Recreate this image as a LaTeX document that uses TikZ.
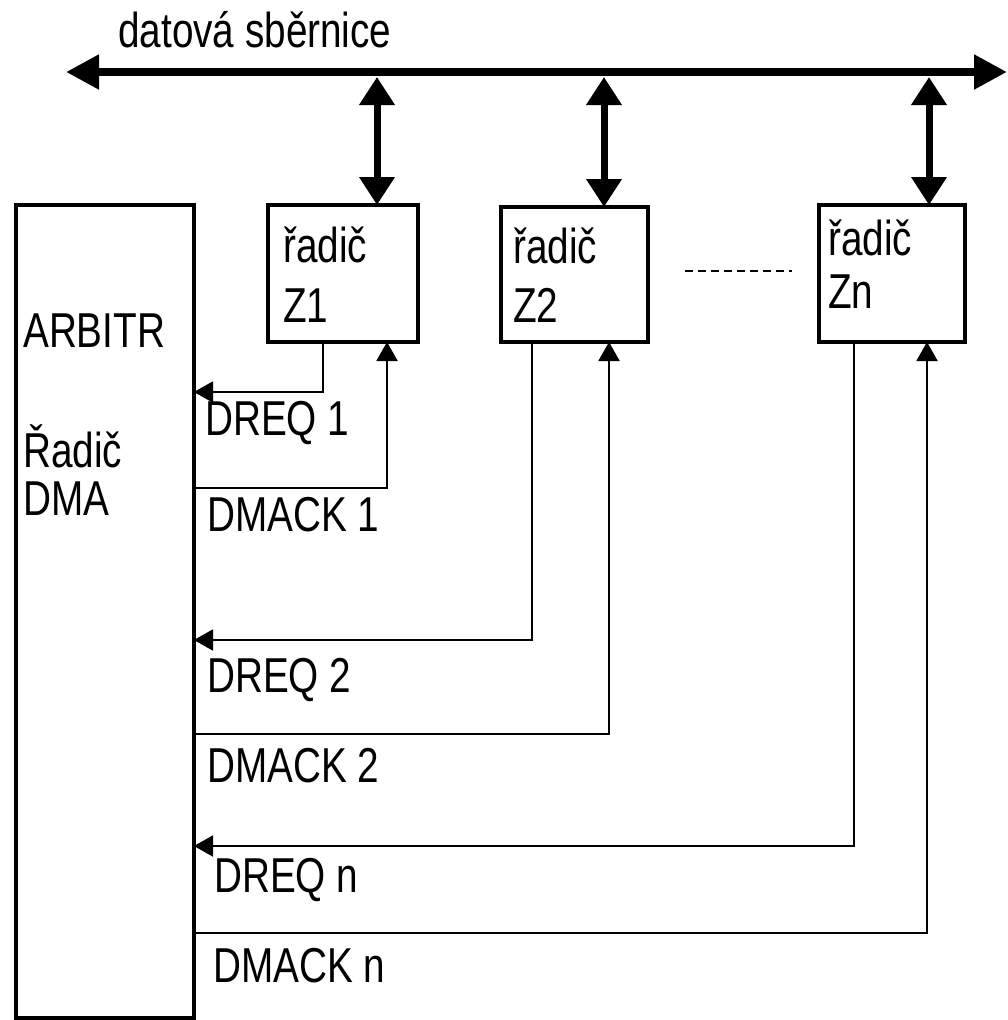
\documentclass[tikz,border=0pt]{standalone}
\usepackage{fontspec}
\setmainfont{Liberation Sans}[FakeStretch=0.79]
\usetikzlibrary{arrows.meta}
\begin{document}
\begin{tikzpicture}[x=1pt,y=-1pt,
  box/.style={draw,line width=4pt,rectangle,inner sep=0pt,outer sep=0pt},
  lbl/.style={anchor=base west,inner sep=0pt,font=\fontsize{49}{49}\selectfont},
  bus/.style={line width=8pt,{Triangle[length=33pt,width=33pt]}-{Triangle[length=33pt,width=33pt]}},
  link/.style={line width=7pt,{Triangle[length=28pt,width=34pt]}-{Triangle[length=28pt,width=34pt]}},
  sig/.style={line width=2pt},
  sigarrow/.style={sig,-{Triangle[length=19pt,width=21pt]}},
  dots/.style={line width=2pt,dash pattern=on 8pt off 5pt}]
\useasboundingbox (0,0) rectangle (1007,1020);
% boxes
\node[box,minimum width=178pt,minimum height=813pt] (arb) at (105,611.5) {};
\node[box,minimum width=150pt,minimum height=137pt] (z1) at (343,273.5) {};
\node[box,minimum width=147pt,minimum height=135pt] (z2) at (574.5,274.5) {};
\node[box,minimum width=146pt,minimum height=137pt] (zn) at (892,273.5) {};
% bus
\coordinate (bl) at (66,72);
\coordinate (br) at (1007,72);
\draw[bus] (bl) -- (br);
\node[lbl] (bustext) at (118,47) {datová sběrnice};
% links to bus
\coordinate (b1) at (377,77);
\coordinate (b2) at (604,77);
\coordinate (bn) at (929,77);
\draw[link] (b1) -- (z1.north -| b1);
\draw[link] (b2) -- (z2.north -| b2);
\draw[link] (bn) -- (zn.north -| bn);
% box texts
\node[lbl] (t1a) at (283,262) {řadič};
\node[lbl] (t1b) at (283,322) {Z1};
\node[lbl] (t2a) at (513,263) {řadič};
\node[lbl] (t2b) at (513,322) {Z2};
\node[lbl] (tna) at (828,255) {řadič};
\node[lbl] (tnb) at (828,308) {Zn};
\node[lbl] (ta1) at (23,347) {ARBITR};
\node[lbl] (ta2) at (23,467) {Řadič};
\node[lbl] (ta3) at (23,515) {DMA};
% dashed
\coordinate (d1) at (685,271);
\coordinate (d2) at (792,271);
\draw[dots] (d1) -- (d2);
% signals
\coordinate (q1) at (323,392);
\coordinate (a1) at (387,488);
\coordinate (q2) at (532,640);
\coordinate (a2) at (609,734);
\coordinate (qn) at (854,846);
\coordinate (an) at (927,933);
\draw[sigarrow] (z1.south -| q1) -- (q1) -- (arb.east |- q1);
\draw[sigarrow] (arb.east |- a1) -- (a1) -- (z1.south -| a1);
\draw[sigarrow] (z2.south -| q2) -- (q2) -- (arb.east |- q2);
\draw[sigarrow] (arb.east |- a2) -- (a2) -- (z2.south -| a2);
\draw[sigarrow] (zn.south -| qn) -- (qn) -- (arb.east |- qn);
\draw[sigarrow] (arb.east |- an) -- (an) -- (zn.south -| an);
% signal labels
\node[lbl] (l1) at (205,435) {DREQ 1};
\node[lbl] (l2) at (207,531) {DMACK 1};
\node[lbl] (l3) at (207,692) {DREQ 2};
\node[lbl] (l4) at (207,782) {DMACK 2};
\node[lbl] (l5) at (214,892) {DREQ n};
\node[lbl] (l6) at (213,982) {DMACK n};
\end{tikzpicture}
\end{document}
